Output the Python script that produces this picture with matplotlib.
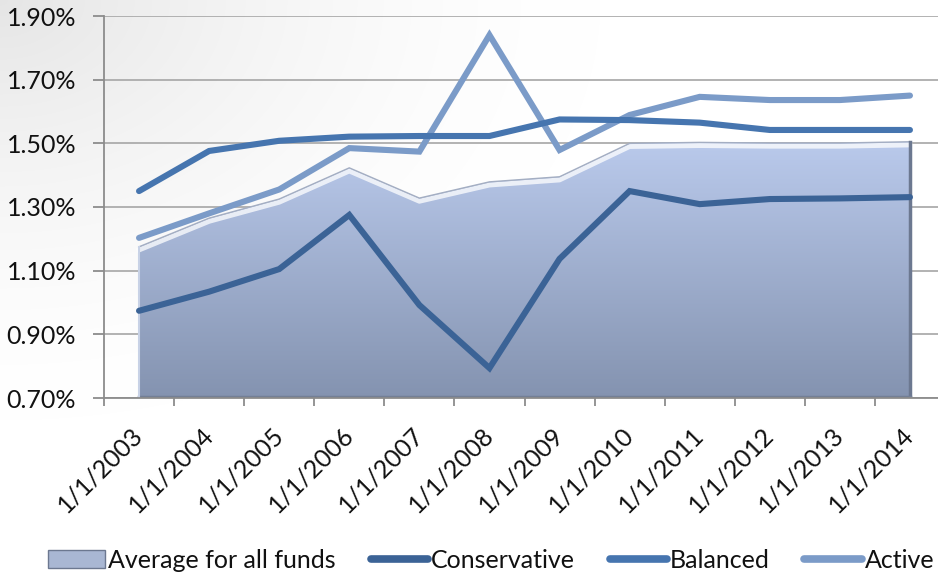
import numpy as np
import matplotlib
matplotlib.use("Agg")
import matplotlib.pyplot as plt
import matplotlib.transforms as mtransforms
from matplotlib.patches import Polygon, Patch
from matplotlib.ticker import FixedLocator, FuncFormatter

plt.rcParams['font.family'] = ['Lato', 'DejaVu Sans']

categories = ["1/1/2003", "1/1/2004", "1/1/2005", "1/1/2006", "1/1/2007", "1/1/2008",
              "1/1/2009", "1/1/2010", "1/1/2011", "1/1/2012", "1/1/2013", "1/1/2014"]
average = [1.175, 1.265, 1.325, 1.423, 1.328, 1.379, 1.395, 1.500, 1.503, 1.501, 1.501, 1.505]
conservative = [0.974, 1.034, 1.105, 1.275, 0.992, 0.794, 1.137, 1.350, 1.309, 1.325, 1.327, 1.331]
balanced = [1.350, 1.476, 1.508, 1.521, 1.523, 1.523, 1.575, 1.573, 1.565, 1.542, 1.542, 1.542]
active = [1.203, 1.280, 1.355, 1.485, 1.474, 1.840, 1.479, 1.589, 1.646, 1.636, 1.636, 1.650]
yticks = [0.70, 0.90, 1.10, 1.30, 1.50, 1.70, 1.90]

W, H = 938, 578
FS = 18
fig = plt.figure(figsize=(W / 100, H / 100), dpi=100)

# subtle background shading in the top-left corner
bg = fig.add_axes([0, 0, 1, 1], zorder=-10)
yy, xx = np.mgrid[0:H, 0:W]
d = np.sqrt((xx / 600.0) ** 2 + (yy / 420.0) ** 2)
shade = np.clip(1 - d, 0, 1) ** 1.6
img = 1.0 - 0.10 * shade
bg.imshow(np.dstack([img, img, img]), extent=[0, W, H, 0], aspect='auto')
bg.set_axis_off()

left, right, top, bottom = 104, 945, 16, 398
ax = fig.add_axes([left / W, 1 - bottom / H, (right - left) / W, (bottom - top) / H])
ax.set_facecolor('none')

x = np.arange(len(categories))
ax.set_xlim(-0.5, len(categories) - 0.5)
ax.set_ylim(yticks[0], yticks[-1])

# Average area with vertical gradient
verts = [(x[0], yticks[0])] + list(zip(x, average)) + [(x[-1], yticks[0])]
poly = Polygon(verts, closed=True, facecolor='none', edgecolor='none')
ax.add_patch(poly)
grad = np.linspace(0, 1, 256)[:, None]
top_c = np.array([186, 202, 236]) / 255
bot_c = np.array([132, 147, 176]) / 255
gimg = top_c[None, None, :] * (1 - grad[..., None]) + bot_c[None, None, :] * grad[..., None]
gimg = np.repeat(gimg, 2, axis=1)
im = ax.imshow(gimg, extent=[x[0], x[-1], yticks[0], max(average)], aspect='auto',
               origin='upper', zorder=1, interpolation='bilinear')
im.set_clip_path(poly)
# bevel effects
ax.plot(x, np.array(average) - 0.010, color='white', lw=3.5, alpha=0.75, zorder=2,
        solid_joinstyle='round')
ax.plot(x, average, color='#A4AEC2', lw=1, zorder=2)
ax.plot([x[-1], x[-1]], [yticks[0], average[-1]], color='#6C7890', lw=2.5, zorder=2)
ax.plot([x[0], x[-1]], [yticks[0] + 0.004, yticks[0] + 0.004], color='#737F96', lw=2.5, zorder=2)
ax.plot([x[0], x[0]], [yticks[0], average[0]], color='#C8D2E6', lw=1.5, zorder=2)

lw = 4.4
l_cons, = ax.plot(x, conservative, color='#3B6396', lw=lw, solid_capstyle='round',
                  solid_joinstyle='miter', zorder=4)
l_bal, = ax.plot(x, balanced, color='#4675AF', lw=lw, solid_capstyle='round',
                 solid_joinstyle='miter', zorder=4)
l_act, = ax.plot(x, active, color='#7B9BC8', lw=lw, solid_capstyle='round',
                 solid_joinstyle='miter', zorder=3)

# grid and axes
ax.yaxis.set_major_locator(FixedLocator(yticks))
ax.yaxis.set_major_formatter(FuncFormatter(lambda v, p: f"{v:.2f}%"))
ax.grid(axis='y', color='#A6A6A6', lw=1.2, zorder=0)
ax.set_axisbelow(True)
for s in ['top', 'right']:
    ax.spines[s].set_visible(False)
for s in ['left', 'bottom']:
    ax.spines[s].set_color('#8C8C8C')
    ax.spines[s].set_linewidth(1.3)

ax.set_xticks(x)
ax.set_xticklabels(categories, rotation=45, ha='right', va='top', rotation_mode='anchor',
                   fontsize=FS, color='#111111')
ax.set_xticks(np.arange(-0.5, len(categories), 1), minor=True)
ax.tick_params(axis='x', which='major', length=0, pad=18)
ax.tick_params(axis='x', which='minor', length=6, width=1.3, color='#8C8C8C', direction='out')
ax.tick_params(axis='y', length=8, width=1.3, color='#8C8C8C', direction='out',
               labelsize=FS, labelcolor='#111111', pad=12)
offset = mtransforms.ScaledTranslation(-8 / 100, 0, fig.dpi_scale_trans)
for lab in ax.get_xticklabels():
    lab.set_transform(lab.get_transform() + offset)

# legend
area_handle = Patch(facecolor='#A9B7D3', edgecolor='#6C7890', lw=1)
leg = fig.legend([area_handle, l_cons, l_bal, l_act],
                 ["Average for all funds", "Conservative", "Balanced", "Active"],
                 loc='center', bbox_to_anchor=(491 / W, 1 - 560 / H), ncol=4, frameon=False,
                 fontsize=FS, handlelength=2.3, handleheight=0.7, handletextpad=0.1,
                 columnspacing=1.4, labelcolor='#111111', borderpad=0, borderaxespad=0)
for h in leg.get_lines():
    h.set_linewidth(5.5)

fig.savefig('out.png', dpi=100)
